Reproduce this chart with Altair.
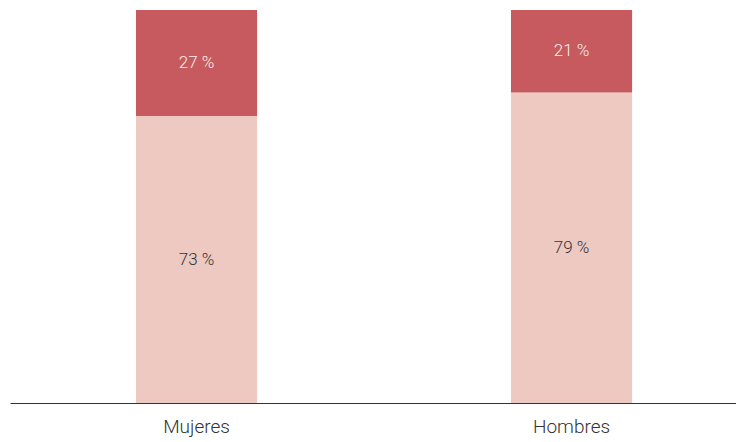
import altair as alt
import pandas as pd

categories = ["Mujeres", "Mujeres", "Hombres", "Hombres"]
segments = ["base", "top", "base", "top"]
values = [73, 27, 79, 21]
labels = ["73 %", "27 %", "79 %", "21 %"]
order_vals = [0, 1, 0, 1]

df = pd.DataFrame({"cat": categories, "seg": segments, "value": values,
                   "label": labels, "ord": order_vals})

xscale = alt.Scale(paddingInner=0.677, paddingOuter=0.3065, align=0.548)
xenc = alt.X("cat:N", sort=["Mujeres", "Hombres"], scale=xscale, title=None,
             axis=alt.Axis(labelAngle=0, labelFont="Roboto", labelFontWeight=300,
                           labelFontSize=19, labelColor="#333333", labelPadding=14,
                           ticks=False, domainColor="#333333", domainWidth=1.2))

colscale = alt.Scale(domain=["base", "top"], range=["#EDC9C1", "#C65A5E"])

base = alt.Chart(df)

bars = base.mark_bar().encode(
    x=xenc,
    y=alt.Y("value:Q", stack="zero", scale=alt.Scale(domain=[0, 100]), axis=None),
    color=alt.Color("seg:N", scale=colscale, legend=None),
    order=alt.Order("ord:Q"),
)

text = base.transform_stack(
    stack="value", groupby=["cat"], as_=["y0", "y1"], sort=[alt.SortField("ord")]
).transform_calculate(
    mid="(datum.y0 + datum.y1) / 2"
).mark_text(font="Roboto", fontWeight=300, fontSize=17).encode(
    x=alt.X("cat:N", sort=["Mujeres", "Hombres"], scale=xscale),
    y=alt.Y("mid:Q", scale=alt.Scale(domain=[0, 100])),
    text="label:N",
    color=alt.Color("seg:N", scale=alt.Scale(domain=["base", "top"], range=["#333333", "#F7EDEC"]), legend=None),
)

chart = alt.layer(bars, text).resolve_scale(color="independent").properties(
    width=726, height=393,
    autosize=alt.AutoSizeParams(type="none"),
    padding={"left": 2, "top": 2, "right": 0, "bottom": 36},
).configure_view(stroke=None)

chart.save("out.html", embed_options={"renderer": "svg", "actions": False})
